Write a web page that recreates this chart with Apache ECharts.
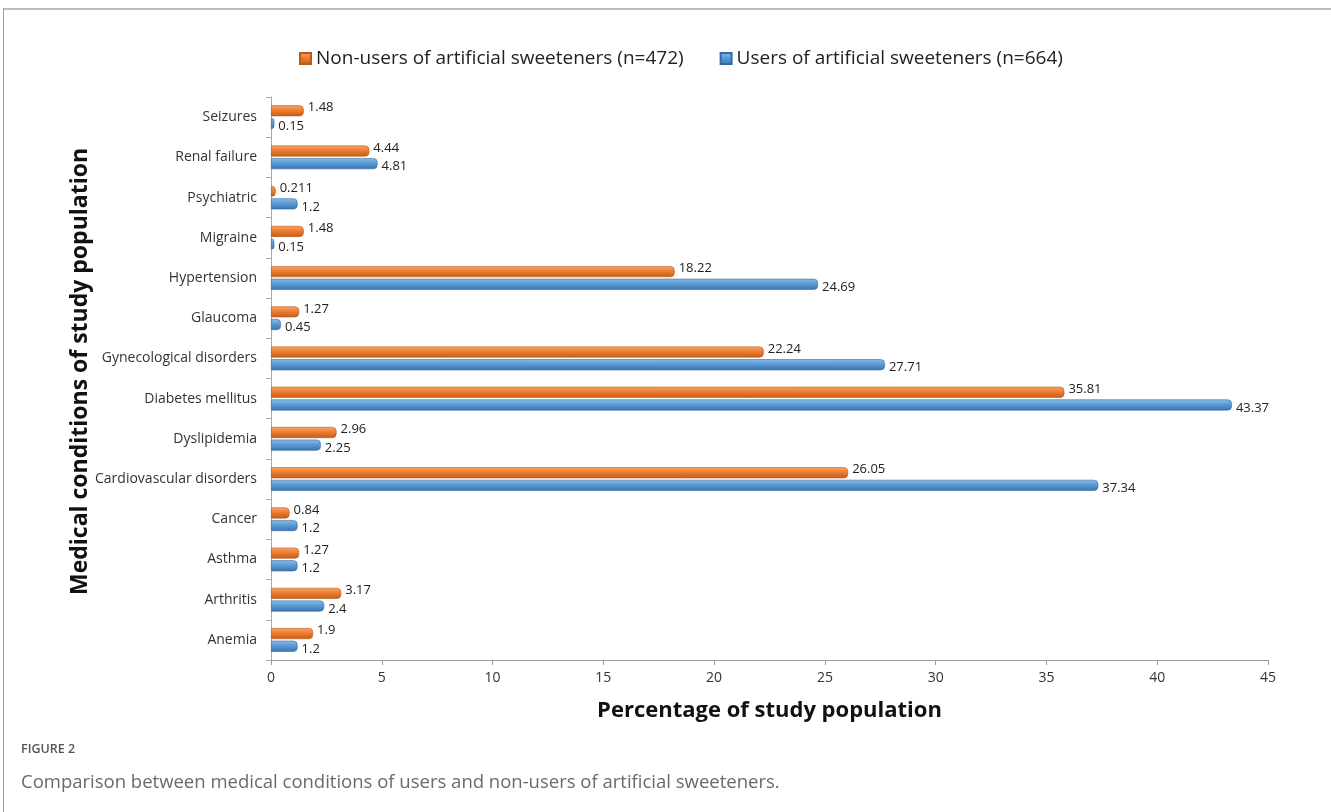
<!DOCTYPE html>
<html>
<head>
<meta charset="utf-8">
<script src="https://cdn.jsdelivr.net/npm/echarts@6/dist/echarts.min.js"></script>
<style>
  html, body { margin: 0; padding: 0; background: #fff; }
  #frame {
    position: absolute; left: 3px; top: 8px; width: 1340px; height: 820px;
    border-top: 2px solid #bdbdbd; border-left: 1px solid #9a9a9a;
  }
  #chart { position: absolute; left: 0; top: 0; width: 1331px; height: 812px; }
</style>
</head>
<body>
<div id="frame"></div>
<div id="chart"></div>
<script>
// bottom to top, as in the original sheet
var conditions = ['Anemia', 'Arthritis', 'Asthma', 'Cancer', 'Cardiovascular disorders',
    'Dyslipidemia', 'Diabetes mellitus', 'Gynecological disorders', 'Glaucoma',
    'Hypertension', 'Migraine', 'Psychiatric', 'Renal failure', 'Seizures'];
var nonUsers = [1.9, 3.17, 1.27, 0.84, 26.05, 2.96, 35.81, 22.24, 1.27, 18.22, 1.48, 0.211, 4.44, 1.48];
var users = [1.2, 2.4, 1.2, 1.2, 37.34, 2.25, 43.37, 27.71, 0.45, 24.69, 0.15, 1.2, 4.81, 0.15];
var xTicks = [0, 5, 10, 15, 20, 25, 30, 35, 40, 45];

var nameNon = 'Non-users of artificial sweeteners (n=472)';
var nameUsers = 'Users of artificial sweeteners (n=664)';

var chart = echarts.init(document.getElementById('chart'));

function barColor(light, mid, dark) {
    return new echarts.graphic.LinearGradient(0, 0, 0, 1, [
        {offset: 0, color: light},
        {offset: 0.45, color: mid},
        {offset: 1, color: dark}
    ]);
}

var labelStyle = {
    show: true,
    position: 'right',
    distance: 4,
    fontFamily: 'Open Sans',
    fontSize: 13,
    color: '#222'
};

var option = {
    animation: false,
    textStyle: {fontFamily: 'Open Sans'},
    legend: {
        data: [nameNon, nameUsers],
        left: 294,
        top: 44,
        itemWidth: 11,
        itemHeight: 11,
        itemGap: 36,
        icon: 'rect',
        textStyle: {fontSize: 19, color: '#222', fontFamily: 'Open Sans'}
    },
    grid: {
        left: 271,
        right: 63,
        top: 97,
        bottom: 152
    },
    xAxis: {
        type: 'value',
        min: xTicks[0],
        max: xTicks[xTicks.length - 1],
        interval: 5,
        name: 'Percentage of study population',
        nameLocation: 'middle',
        nameGap: 40,
        nameTextStyle: {fontSize: 22, fontWeight: 'bold', color: '#111', fontFamily: 'Open Sans'},
        axisLine: {show: true, lineStyle: {color: '#999'}},
        axisTick: {show: true, length: 5, lineStyle: {color: '#999'}},
        axisLabel: {fontSize: 14, color: '#333', margin: 11},
        splitLine: {show: false}
    },
    yAxis: {
        type: 'category',
        data: conditions,
        name: 'Medical conditions of study population',
        nameLocation: 'middle',
        nameGap: 179,
        nameMoveOverlap: false,
        nameRotate: 90,
        nameTextStyle: {fontSize: 23, fontWeight: 'bold', color: '#111', fontFamily: 'Open Sans',
            padding: [0, 0, 0, 14]},
        axisLine: {show: true, lineStyle: {color: '#aaa'}},
        axisTick: {show: true, length: 5, lineStyle: {color: '#aaa'}},
        axisLabel: {fontSize: 14, color: '#333', margin: 14}
    },
    series: [
        {
            name: nameNon,
            type: 'bar',
            data: nonUsers,
            barWidth: 11,
            barGap: '15%',
            itemStyle: {
                color: barColor('#f7a66e', '#ed7d31', '#c25d17'),
                borderColor: '#b85a1c',
                borderWidth: 0.6,
                borderRadius: [0, 4, 4, 0]
            },
            label: Object.assign({}, labelStyle, {offset: [0, -3]})
        },
        {
            name: nameUsers,
            type: 'bar',
            data: users,
            barWidth: 11,
            barGap: '15%',
            itemStyle: {
                color: barColor('#8cbce8', '#5b9bd5', '#3a74b0'),
                borderColor: '#3669a0',
                borderWidth: 0.6,
                borderRadius: [0, 4, 4, 0]
            },
            label: Object.assign({}, labelStyle, {offset: [0, 3]})
        }
    ],
    title: {
        text: 'FIGURE 2',
        subtext: 'Comparison between medical conditions of users and non-users of artificial sweeteners.',
        left: 16,
        top: 738,
        itemGap: 17,
        textStyle: {fontSize: 12.5, fontWeight: 600, color: '#555', fontFamily: 'Open Sans'},
        subtextStyle: {fontSize: 18.5, color: '#6a6a6a', fontFamily: 'Open Sans'}
    }
};

chart.setOption(option);
</script>
</body>
</html>
